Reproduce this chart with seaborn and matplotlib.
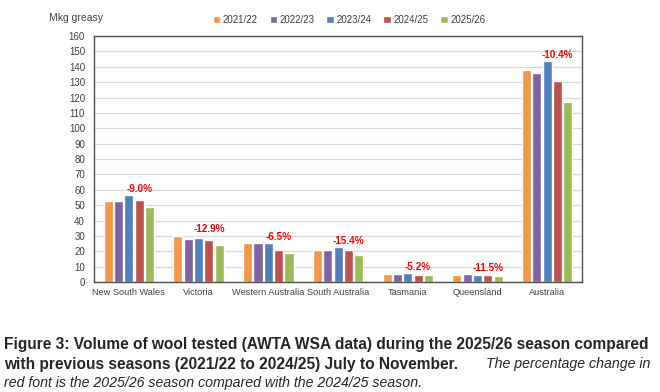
import pandas as pd
import seaborn as sns
import matplotlib.pyplot as plt

# Wool tested by state, July to November (Mkg greasy)
regions = ['New South Wales', 'Victoria', 'Western Australia', 'South Australia',
           'Tasmania', 'Queensland', 'Australia']
seasons = ['2021/22', '2022/23', '2023/24', '2024/25', '2025/26']
v2122 = [52.5, 30.2, 25.2, 20.5, 5.2, 4.6, 138.1]
v2223 = [52.5, 27.8, 25.2, 20.5, 5.2, 5.0, 135.7]
v2324 = [56.6, 28.5, 25.2, 22.9, 5.7, 4.6, 143.8]
v2425 = [53.6, 27.4, 20.5, 20.5, 4.6, 4.6, 130.9]
v2526 = [48.8, 23.9, 19.1, 17.3, 4.3, 4.1, 117.3]
pct_change = ['-9.0%', '-12.9%', '-6.5%', '-15.4%', '-5.2%', '-11.5%', '-10.4%']
yticks = list(range(0, 161, 10))

colors = ['#F79646', '#8064A2', '#4F81BD', '#C0504D', '#9BBB59']

rows = []
for season, vals in zip(seasons, [v2122, v2223, v2324, v2425, v2526]):
    for region, v in zip(regions, vals):
        rows.append({'region': region, 'season': season, 'value': v})
df = pd.DataFrame(rows)

sns.set_style('white')
plt.rcParams['font.family'] = ['Liberation Sans', 'DejaVu Sans']

fig, ax = plt.subplots(figsize=(6.6, 3.92), dpi=100)
fig.subplots_adjust(left=0.1424, right=0.882, top=0.908, bottom=0.2806)

sns.barplot(data=df, x='region', y='value', hue='season', order=regions,
            hue_order=seasons, palette=colors, width=0.74, gap=0.12,
            saturation=1, ax=ax)

ax.set_ylim(0, 160)
ax.set_yticks(yticks)
ax.set_xlabel('')
ax.set_ylabel('')
ax.grid(axis='y', color='#D9D9D9', linewidth=0.9)
ax.set_axisbelow(True)
for sp in ax.spines.values():
    sp.set_color('#505050')
    sp.set_linewidth(1.0)
ax.tick_params(axis='y', length=0, labelsize=7, colors='#404040', pad=6.5)
ax.tick_params(axis='x', length=0, labelsize=6.6, colors='#404040', pad=4.5)

# percentage change labels above the 2024/25 bar
red_bars = ax.containers[3]
maxvals = [max(a) for a in zip(v2122, v2223, v2324, v2425, v2526)]
for bar, label, top in zip(red_bars, pct_change, maxvals):
    ax.text(bar.get_x() + bar.get_width() / 2, top + 4.0, label,
            ha='center', va='center', color='#FF0000', fontsize=7.2,
            fontweight='bold')

handles, labels = ax.get_legend_handles_labels()
ax.get_legend().remove()
fig.legend(handles, labels, ncol=5, frameon=False, loc='center',
           bbox_to_anchor=(0.529, 0.949), fontsize=7, handlelength=0.75,
           handleheight=0.75, handletextpad=0.3, columnspacing=1.2,
           labelcolor='#404040')

fig.text(49 / 660, 1 - 18 / 392, 'Mkg greasy', fontsize=7.5, color='#404040',
         va='center', ha='left')

# caption
fig.text(4 / 660, 1 - 344 / 392,
         'Figure 3: Volume of wool tested (AWTA WSA data) during the 2025/26 season compared',
         fontsize=11.2, fontweight='bold', va='center', ha='left')
fig.text(4 / 660, 1 - 364 / 392,
         'with previous seasons (2021/22 to 2024/25) July to November.',
         fontsize=11.2, fontweight='bold', va='center', ha='left')
fig.text(650 / 660, 1 - 364 / 392, 'The percentage change in',
         fontsize=10.2, style='italic', va='center', ha='right')
fig.text(4 / 660, 1 - 383 / 392,
         'red font is the 2025/26 season compared with the 2024/25 season.',
         fontsize=10.2, style='italic', va='center', ha='left')

fig.savefig('out.png', dpi=100)
